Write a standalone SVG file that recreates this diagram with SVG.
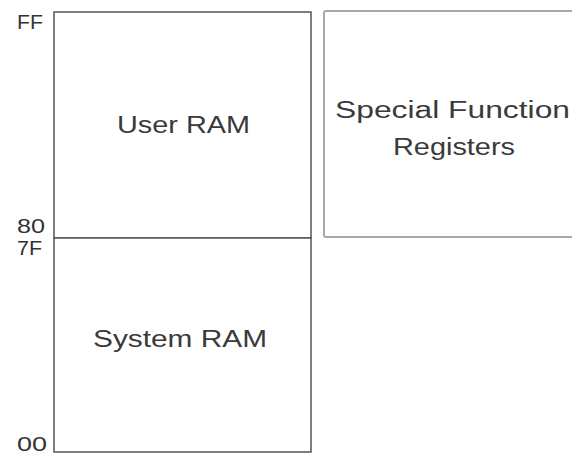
<svg xmlns="http://www.w3.org/2000/svg" width="572" height="461" viewBox="0 0 572 461">
<style>
text{font-family:"Liberation Sans",Arial,sans-serif;}
.lbl{font-size:23px;fill:#3a3a3a;}
.addr{font-size:20px;fill:#333;}
.box{fill:#fff;stroke:#555;stroke-width:1.5;}
.sfr{fill:#fff;stroke:#a8a8a8;stroke-width:2;}
</style>
<rect width="572" height="461" fill="#fff"/>
<g id="user-ram">
<rect class="box" x="54" y="12" width="257" height="226"/>
<text class="lbl" x="117" y="133" textLength="133" lengthAdjust="spacingAndGlyphs">User RAM</text>
</g>
<g id="system-ram">
<rect class="box" x="54" y="238" width="257" height="214"/>
<text class="lbl" x="93" y="347" textLength="174" lengthAdjust="spacingAndGlyphs">System RAM</text>
</g>
<g id="sfr">
<rect class="sfr" x="324" y="11" width="260" height="226" rx="2"/>
<text class="lbl" x="335" y="118" textLength="235" lengthAdjust="spacingAndGlyphs">Special Function</text>
<text class="lbl" x="393" y="155" textLength="122" lengthAdjust="spacingAndGlyphs">Registers</text>
</g>
<g id="addresses">
<text class="addr" x="17" y="29" textLength="26" lengthAdjust="spacingAndGlyphs">FF</text>
<text class="addr" x="17" y="233" textLength="28" lengthAdjust="spacingAndGlyphs">80</text>
<text class="addr" x="17" y="255" textLength="25" lengthAdjust="spacingAndGlyphs">7F</text>
<text class="addr" x="17" y="451" textLength="30" lengthAdjust="spacingAndGlyphs">00</text>
</g>
<g id="connectors"></g>
</svg>
